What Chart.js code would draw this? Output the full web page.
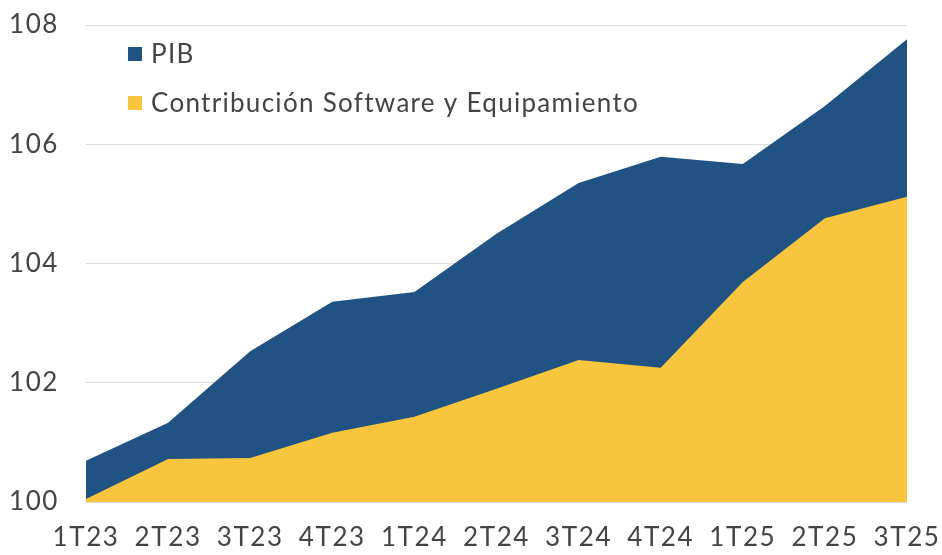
<!DOCTYPE html>
<html>
<head>
<meta charset="utf-8">
<script src="https://cdn.jsdelivr.net/npm/chart.js@4/dist/chart.umd.min.js"></script>
<style>
  html, body { margin: 0; padding: 0; background: #fff; }
  #wrap { width: 942px; height: 555px; }
</style>
</head>
<body>
<div id="wrap"><canvas id="pibChart" width="942" height="555"></canvas></div>
<script>
const quarters = ["1T23", "2T23", "3T23", "4T23", "1T24", "2T24", "3T24", "4T24", "1T25", "2T25", "3T25"];
const pib = [100.69, 101.33, 102.53, 103.36, 103.52, 104.5, 105.35, 105.79, 105.67, 106.64, 107.76];
const contribucion = [100.05, 100.72, 100.74, 101.16, 101.43, 101.9, 102.38, 102.25, 103.69, 104.76, 105.12];
const yTicks = [100, 102, 104, 106, 108];

const FONT = "Lato, 'Open Sans', sans-serif";
const TEXT = "#444444";

// the original text is a bit spaced out
const spacing = {
  id: "spacing",
  beforeLayout(chart) { chart.ctx.letterSpacing = "1.6px"; },
  beforeDraw(chart) { chart.ctx.letterSpacing = "1.6px"; }
};

// legend drawn inside the plot, top left
const insideLegend = {
  id: "insideLegend",
  afterDraw(chart) {
    const c = chart.ctx;
    const rows = [47, 96];
    c.save();
    c.font = "26px " + FONT;
    c.letterSpacing = "1.3px";
    c.textBaseline = "middle";
    chart.data.datasets.forEach((ds, i) => {
      c.fillStyle = ds.backgroundColor;
      c.fillRect(128, rows[i], 14, 14);
      c.fillStyle = TEXT;
      c.fillText(ds.label, 151, rows[i] + 8);
    });
    c.restore();
  }
};

new Chart(document.getElementById("pibChart"), {
  type: "line",
  data: {
    labels: quarters,
    datasets: [
      {
        label: "PIB",
        data: pib,
        backgroundColor: "#205283",
        borderWidth: 0,
        pointRadius: 0,
        fill: "start",
        order: 2
      },
      {
        label: "Contribución Software y Equipamiento",
        data: contribucion,
        backgroundColor: "#f7c63e",
        borderWidth: 0,
        pointRadius: 0,
        fill: "start",
        order: 1
      }
    ]
  },
  options: {
    responsive: false,
    animation: false,
    layout: { padding: { top: 25, right: 35, left: 0, bottom: 0 } },
    scales: {
      x: {
        offset: false,
        grid: { display: false },
        border: { display: false },
        ticks: {
          color: TEXT,
          font: { family: FONT, size: 26 },
          padding: 12,
          maxRotation: 0,
          autoSkip: false
        },
        afterFit(scale) {
          scale.height = 53;
          scale.paddingLeft = 0;
          scale.paddingRight = 0;
        }
      },
      y: {
        min: 100,
        max: 108,
        afterBuildTicks(scale) { scale.ticks = yTicks.map(v => ({ value: v })); },
        grid: { color: "#dcdcdc", lineWidth: 1, drawTicks: false },
        border: { display: false },
        ticks: {
          color: TEXT,
          font: { family: FONT, size: 26 },
          padding: 27
        },
        afterFit(scale) {
          scale.width = 86;
          scale.paddingTop = 0;
          scale.paddingBottom = 0;
        }
      }
    },
    plugins: {
      legend: { display: false },
      tooltip: { enabled: false }
    }
  },
  plugins: [spacing, insideLegend]
});
</script>
</body>
</html>
